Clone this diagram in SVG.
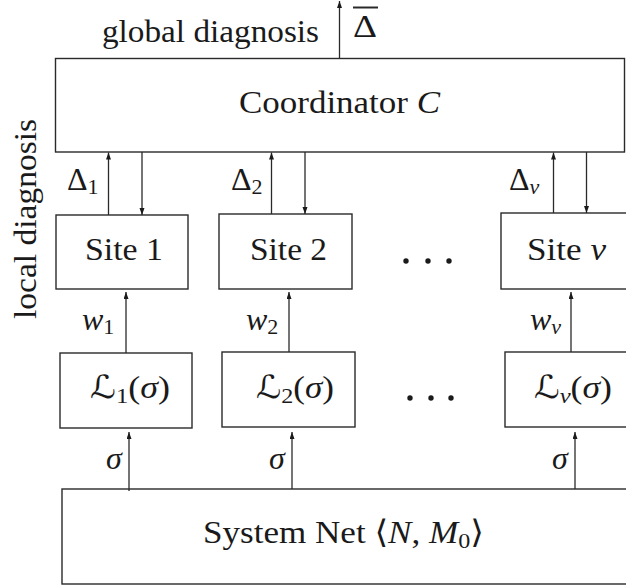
<svg xmlns="http://www.w3.org/2000/svg" width="626" height="588" viewBox="0 0 626 588">
<style>
.box{fill:#fff;stroke:#2a2a2a;stroke-width:1.4}
.ln{fill:none;stroke:#2a2a2a;stroke-width:1.3}
.arr{fill:none;stroke:#2a2a2a;stroke-width:1.3;marker-end:url(#ah)}
text{font-family:"Liberation Serif","DejaVu Serif","DejaVu Sans",serif;fill:#1a1a1a;font-size:32px}
.it{font-style:italic}
.sub{font-size:22px}
</style>
<defs>
<marker id="ah" markerUnits="userSpaceOnUse" markerWidth="8" markerHeight="6" refX="7" refY="2.5" orient="auto">
<path d="M0,0 L7,2.5 L0,5 z" fill="#1a1a1a"/>
</marker>
</defs>
<rect width="626" height="588" fill="#fff"/>

<g id="coordinator">
<rect class="box" x="55.5" y="58.5" width="569" height="93.5"/>
<text x="239" y="113" textLength="201" lengthAdjust="spacingAndGlyphs">Coordinator <tspan class="it">C</tspan></text>
</g>

<g id="site1">
<rect class="box" x="56" y="215" width="132" height="74"/>
<text x="85" y="260" textLength="78" lengthAdjust="spacingAndGlyphs">Site 1</text>
</g>
<g id="site2">
<rect class="box" x="219" y="214" width="133" height="75"/>
<text x="250" y="260" textLength="77" lengthAdjust="spacingAndGlyphs">Site 2</text>
</g>
<g id="siteNu">
<rect class="box" x="501" y="213" width="140" height="76"/>
<text x="527" y="260" textLength="79" lengthAdjust="spacingAndGlyphs">Site <tspan class="it">ν</tspan></text>
</g>

<g id="L1">
<rect class="box" x="60" y="353" width="132" height="75"/>
<text x="90" y="398" textLength="80" lengthAdjust="spacingAndGlyphs">ℒ<tspan class="sub" dy="5">1</tspan><tspan dy="-5">(</tspan><tspan class="it">σ</tspan>)</text>
</g>
<g id="L2">
<rect class="box" x="222" y="352" width="133" height="75"/>
<text x="256" y="398" textLength="78" lengthAdjust="spacingAndGlyphs">ℒ<tspan class="sub" dy="5">2</tspan><tspan dy="-5">(</tspan><tspan class="it">σ</tspan>)</text>
</g>
<g id="LNu">
<rect class="box" x="505" y="352" width="140" height="75"/>
<text x="534" y="398" textLength="78" lengthAdjust="spacingAndGlyphs">ℒ<tspan class="sub it" dy="5">ν</tspan><tspan dy="-5">(</tspan><tspan class="it">σ</tspan>)</text>
</g>

<g id="systemNet">
<rect class="box" x="62" y="489" width="580" height="95"/>
<text x="203" y="543" textLength="281" lengthAdjust="spacingAndGlyphs">System Net ⟨<tspan class="it">N</tspan>, <tspan class="it">M</tspan><tspan class="sub" dy="5">0</tspan><tspan dy="-5">⟩</tspan></text>
</g>

<g id="dots">
<circle cx="406" cy="261" r="2.7" fill="#1a1a1a"/>
<circle cx="428" cy="261" r="2.7" fill="#1a1a1a"/>
<circle cx="449" cy="261" r="2.7" fill="#1a1a1a"/>
<circle cx="410" cy="398" r="2.7" fill="#1a1a1a"/>
<circle cx="431" cy="398" r="2.7" fill="#1a1a1a"/>
<circle cx="451" cy="398" r="2.7" fill="#1a1a1a"/>
</g>

<g id="connectors">
<line class="arr" x1="339.5" y1="58" x2="339.5" y2="1"/>
<line class="arr" x1="108.5" y1="215" x2="108.5" y2="152.5"/>
<line class="arr" x1="142" y1="152" x2="142" y2="215"/>
<line class="arr" x1="271.5" y1="214" x2="271.5" y2="152.5"/>
<line class="arr" x1="305" y1="152" x2="305" y2="214"/>
<line class="arr" x1="553.5" y1="213" x2="553.5" y2="152.5"/>
<line class="arr" x1="586.5" y1="152" x2="586.5" y2="213"/>
<line class="arr" x1="126" y1="353" x2="126" y2="292"/>
<line class="arr" x1="289" y1="352" x2="289" y2="292"/>
<line class="arr" x1="571" y1="352" x2="571" y2="292"/>
<line class="arr" x1="129" y1="491" x2="129" y2="432"/>
<line class="arr" x1="292" y1="489" x2="292" y2="432"/>
<line class="arr" x1="575" y1="489" x2="575" y2="432"/>
</g>

<g id="labels">
<text x="102" y="42" textLength="217" lengthAdjust="spacingAndGlyphs">global diagnosis</text>
<text x="353" y="37" textLength="24" lengthAdjust="spacingAndGlyphs">Δ</text>
<line class="ln" x1="353" y1="7.5" x2="378" y2="7.5" style="stroke-width:2"/>
<text transform="translate(36,219) rotate(-90)" text-anchor="middle" textLength="200" lengthAdjust="spacingAndGlyphs">local diagnosis</text>
<text x="67" y="190">Δ<tspan class="sub" dy="4">1</tspan></text>
<text x="231" y="190">Δ<tspan class="sub" dy="4">2</tspan></text>
<text x="509" y="190">Δ<tspan class="sub it" dy="4">ν</tspan></text>
<text x="82" y="330" class="it">w<tspan class="sub" style="font-style:normal" dy="4">1</tspan></text>
<text x="246" y="330" class="it">w<tspan class="sub" style="font-style:normal" dy="4">2</tspan></text>
<text x="530" y="330" class="it">w<tspan class="sub" dy="4">ν</tspan></text>
<text x="106" y="469" class="it">σ</text>
<text x="269" y="469" class="it">σ</text>
<text x="552" y="469" class="it">σ</text>
</g>
</svg>
